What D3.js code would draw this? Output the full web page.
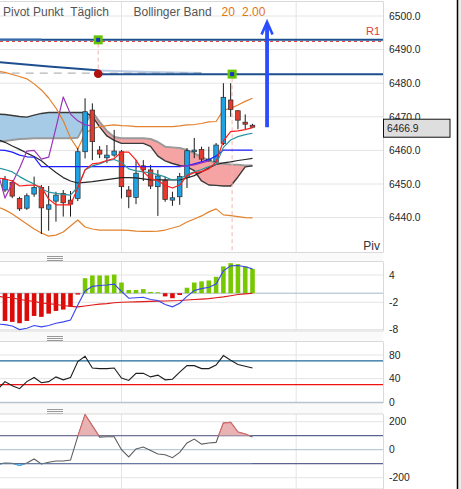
<!DOCTYPE html>
<html><head><meta charset="utf-8">
<script src="https://cdn.jsdelivr.net/npm/d3@7"></script>
<style>
body{margin:0;background:#fff;}
svg{display:block;font-family:"Liberation Sans",Arial,sans-serif;}
</style>
</head><body>
<svg id="chart" width="461" height="489"></svg>
<script>
// ---------------- DATA ----------------
// candle index 0..34 ; indicator series cover index -1..34
const candleIdx = d3.range(0, 35);
const lineIdx = d3.range(-1, 35);

const candleOpen  = [6448.2,6450.5,6445.7,6442.8,6447.0,6449.0,6442.5,6444.9,6447.2,6445.2,6445.7,6459.6,6472.0,6460.1,6457.8,6458.6,6459.6,6448.2,6446.0,6455.4,6454.2,6449.2,6451.0,6445.2,6446.2,6452.0,6459.6,6460.3,6456.9,6456.6,6462.1,6475.0,6471.8,6468.4,6467.5];
const candleHigh  = [6452.4,6451.2,6446.2,6447.2,6452.2,6449.7,6449.4,6447.7,6448.2,6447.9,6460.7,6475.5,6474.0,6461.3,6461.6,6466.1,6460.1,6449.4,6457.1,6457.1,6455.7,6454.2,6452.2,6447.7,6453.3,6460.7,6463.7,6461.1,6461.1,6462.2,6480.0,6480.0,6472.0,6470.7,6467.9];
const candleLow   = [6447.6,6445.8,6442.0,6442.3,6446.2,6435.1,6436.1,6438.8,6440.3,6440.3,6444.9,6457.6,6457.1,6457.7,6456.2,6458.1,6445.7,6442.8,6444.0,6450.9,6448.5,6440.5,6444.7,6443.5,6443.8,6448.8,6457.7,6456.6,6456.6,6456.3,6461.6,6470.0,6466.3,6466.3,6466.8];
const candleClose = [6451.4,6446.4,6442.6,6446.5,6449.0,6442.9,6443.8,6446.7,6444.4,6444.0,6459.6,6471.5,6462.6,6458.9,6458.6,6459.8,6449.2,6446.2,6453.2,6454.2,6449.4,6452.4,6445.4,6445.9,6452.2,6459.9,6460.1,6457.4,6457.4,6461.6,6475.8,6472.2,6469.0,6467.8,6466.9];

const bbUpper = [6483.6,6483.2,6482.6,6482.0,6481.3,6479.8,6478.0,6475.6,6472.6,6468.8,6463.7,6460.4,6465.1,6466.4,6467.1,6467.4,6467.6,6467.4,6467.3,6467.1,6467.05,6467.05,6467.05,6467.05,6467.05,6467.3,6467.6,6467.7,6468.0,6468.5,6468.6,6472.0,6472.5,6473.5,6474.6,6475.5];
const bbLower = [6443.2,6442.3,6441.1,6439.6,6438.1,6436.6,6435.4,6434.5,6434.8,6435.7,6437.5,6439.3,6437.2,6436.6,6436.3,6436.3,6436.3,6436.3,6436.2,6436.0,6435.9,6435.9,6436.0,6436.3,6436.9,6437.5,6438.7,6439.6,6440.5,6441.7,6442.6,6440.8,6440.6,6440.3,6440.0,6439.9];
const spanA = [6470.8,6470.7,6470.4,6470.1,6469.9,6470.5,6471.0,6471.3,6471.3,6471.3,6471.3,6471.3,6471.3,6470.1,6467.0,6464.3,6463.0,6462.1,6462.1,6462.1,6462.1,6461.2,6458.3,6456.9,6456.1,6455.5,6455.1,6454.0,6450.9,6449.7,6449.6,6449.4,6449.4,6452.1,6455.1,6455.4];
const spanB = [6462.7,6462.8,6463.1,6463.4,6463.5,6463.6,6463.6,6463.6,6463.6,6463.6,6463.6,6463.8,6467.9,6471.4,6468.5,6465.8,6464.0,6463.6,6463.6,6463.6,6463.6,6463.4,6462.5,6461.1,6460.9,6460.7,6460.1,6459.2,6458.0,6457.0,6456.3,6456.0,6455.8,6455.7,6455.5,6455.5];
const kijunLine = [6463.2,6462.4,6461.3,6460.3,6459.2,6458.2,6456.9,6455.1,6453.4,6451.9,6450.9,6450.3,6450.5,6450.7,6451.0,6451.3,6451.6,6451.9,6451.9,6451.8,6451.5,6451.2,6451.2,6451.2,6451.2,6451.2,6451.8,6452.5,6453.6,6454.8,6455.8,6456.3,6456.6,6457.0,6457.3,6457.6];
const blueLine = [6460.1,6460.0,6459.5,6458.6,6458.1,6458.0,6455.2,6455.2,6455.2,6455.2,6455.2,6455.2,6455.2,6455.2,6455.2,6455.2,6455.2,6455.2,6455.2,6455.2,6455.2,6455.2,6455.2,6455.2,6455.2,6455.2,6455.4,6456.0,6456.6,6457.3,6458.3,6460.1,6460.1,6460.1,6460.1,6460.1];
const redLine = [6451.8,6451.5,6450.9,6449.4,6449.6,6449.7,6449.1,6445.5,6443.8,6443.8,6443.8,6448.8,6454.2,6456.0,6456.3,6457.0,6457.6,6459.5,6459.5,6457.1,6453.6,6451.6,6451.0,6449.6,6448.8,6449.7,6452.5,6453.4,6453.7,6454.5,6456.6,6462.8,6465.6,6465.8,6466.2,6466.8];
const tealLine = [6454.8,6454.3,6453.6,6452.2,6451.0,6450.0,6448.5,6447.6,6447.2,6446.9,6446.7,6449.1,6454.2,6455.4,6456.0,6456.9,6457.3,6456.4,6454.5,6453.9,6453.6,6453.3,6452.8,6452.1,6451.2,6451.5,6452.8,6453.6,6454.3,6455.2,6455.8,6460.9,6463.1,6464.1,6464.7,6465.1];
const purpleLine = [6453.6,6445.8,6450.3,6454.7,6459.8,6460.0,6457.4,6458.0,6466.7,6475.9,6470.8,6468.8,6467.6,6467.3,
  null,null,null,null,null,null,null,null,null,null,null,
  6455.2,6455.4,6455.7,6456.3,6456.9,null,null,null,null,null,null];

const macdLine = [-6.8,-6.9,-7.2,-8.0,-7.7,-7.1,-7.4,-7.1,-6.6,-6.3,-5.9,-2.6,0.5,1.5,1.7,1.8,2.0,0.4,-1.1,-1.0,-0.9,-1.4,-1.6,-2.5,-3.0,-2.2,-0.7,0.6,1.0,1.3,2.0,4.9,6.0,6.1,5.8,5.35];
const macdSignal = [-0.7,-0.9,-1.0,-1.4,-1.6,-1.8,-2.15,-2.3,-2.5,-2.7,-2.9,-3.0,-2.8,-2.6,-2.4,-2.3,-2.1,-2.0,-1.95,-1.9,-1.85,-1.8,-1.75,-1.7,-1.65,-1.6,-1.5,-1.4,-1.3,-1.2,-1.0,-0.8,-0.55,-0.3,-0.15,0];
const macdHist = [-6.1,-6.3,-6.6,-6.1,-5.0,-5.2,-4.5,-3.9,-3.6,-2.9,-0.3,3.3,3.9,3.9,3.9,4.1,2.35,0.7,0.7,0.9,0.28,0.2,-0.7,-1.1,-0.4,1.2,2.35,2.6,2.8,3.6,5.9,6.6,6.4,5.9,5.35];
const oscLine = [22,35,28,23,35,42,33,35,43,38,42,69,78,58,57,57,58,41,37,49,49,43,46,38,39,51,62,62,57,57,63,79,71,64,61,58];
const cciLine = [-104,-95,-97,-112,-95,-66,-102,-90,-81,-81,-74,95,250,170,90,92,92,0,-52,5,19,-5,-31,-36,-57,-19,48,76,40,48,52,190,195,126,112,90];

const mainTicks = [6440,6450,6460,6470,6480,6490,6500];
const macdTicks = [4,-2,-8];
const oscTicks = [0,40,80];
const oscLevels = [70,30];
const cciTicks = [-200,0,200];
const cciLevels = [100,-100];
const gridIdx = [16,40];

const resistLevel = 6492.9, pivotR1 = 6492.4, trendLevel = 6482.7, dashedLevel = 6483.0;
const trendCurveIdx = [-1,6,12.8,20,27];
const trendCurvePx = [6486.3,6485.0,6483.8,6483.3,6483.0];
const faintLineIdx = [-1,5], faintLinePx = 6493.2;
const markerIdx = [12.8,31.2], markerPx = [6492.9,6482.7];
const circleIdx = 12.8, circlePx = 6482.8;
const eventIdx = [12.8,31.2], eventFrom = [6491.8,6481.5], eventTo = [6484.1,null];
const arrowIdx = 36, arrowFrom = 6466.9, arrowTo = 6498.2;
const lastPrice = 6466.9;

// ---------------- LAYOUT ----------------
const svg = d3.select("#chart");
const plotR = 383;
const P = {
  main:{top:1.5,bottom:252.5},
  macd:{top:261.5,bottom:331},
  osc:{top:341.5,bottom:403},
  cci:{top:414,bottom:489}
};
const x = d3.scaleLinear().domain([0,34]).range([5,252.5]);
const yMain = d3.scaleLinear().domain([6440,6500]).range([217.6,16]);
const yMacd = d3.scaleLinear().domain([-8,4]).range([329.6,275]);
const yOsc = d3.scaleLinear().domain([0,80]).range([402.3,355]);
const yCci = d3.scaleLinear().domain([-200,200]).range([477.7,421.7]);

svg.append("rect").attr("width",461).attr("height",489).attr("fill","#fff");
svg.append("rect").attr("x",458).attr("width",3).attr("height",489).attr("fill","#ececec");

const defs = svg.append("defs");
Object.entries(P).forEach(([k,p])=>{
  defs.append("clipPath").attr("id","clip-"+k).append("rect")
    .attr("x",0).attr("y",p.top).attr("width",plotR).attr("height",p.bottom-p.top);
});

// separator bands + grips
[[P.main.bottom,P.macd.top],[P.macd.bottom,P.osc.top],[P.osc.bottom,P.cci.top]].forEach(([a,b])=>{
  svg.append("rect").attr("x",0).attr("y",a).attr("width",plotR).attr("height",b-a).attr("fill","#fafafa");
  [5,3,1].forEach(o=>{
    const yy = Math.floor(b)-o+0.5;
    svg.append("line").attr("x1",47).attr("x2",63).attr("y1",yy).attr("y2",yy)
      .attr("stroke","#999").attr("stroke-width",1);
  });
});

// grids
function hGrid(scale, ticks, color){
  svg.append("g").selectAll("line").data(ticks).join("line")
    .attr("x1",0).attr("x2",plotR).attr("y1",d=>scale(d)).attr("y2",d=>scale(d))
    .attr("stroke",color||"#e4e4e4").attr("stroke-width",1);
}
function vGrid(p){
  svg.append("g").selectAll("line").data(gridIdx).join("line")
    .attr("x1",d=>x(d)).attr("x2",d=>x(d)).attr("y1",p.top).attr("y2",p.bottom)
    .attr("stroke","#e4e4e4").attr("stroke-width",1);
}
Object.values(P).forEach(p=>{
  vGrid(p);
  svg.append("line").attr("x1",0).attr("x2",plotR).attr("y1",p.top).attr("y2",p.top).attr("stroke","#d9d9d9");
  svg.append("line").attr("x1",0).attr("x2",plotR).attr("y1",p.bottom).attr("y2",p.bottom).attr("stroke","#d9d9d9");
  svg.append("line").attr("x1",plotR+0.5).attr("x2",plotR+0.5).attr("y1",p.top).attr("y2",p.bottom).attr("stroke","#d9d9d9");
});
hGrid(yMain, mainTicks);
hGrid(yMacd, macdTicks);
hGrid(yMacd, [0], "#a9b9ca");
hGrid(yOsc, [40,80]);
hGrid(yOsc, [0], "#a9b9ca");
hGrid(yCci, [200,-200]);
hGrid(yCci, [0], "#a9bfd0");

// ---------------- MAIN PANEL ----------------
const gMain = svg.append("g").attr("clip-path","url(#clip-main)");

// ichimoku cloud segments
(function(){
  const pts = lineIdx.map((i,k)=>({i, a:spanA[k], b:spanB[k]}));
  const segs=[]; let cur=null;
  pts.forEach((p,k)=>{
    const s = p.a >= p.b;
    if(!cur){cur={s,pts:[p]};return;}
    if(s!==cur.s){
      const q=pts[k-1], d0=q.a-q.b, d1=p.a-p.b, t=d0/(d0-d1);
      const c={i:q.i+t*(p.i-q.i), a:q.a+t*(p.a-q.a)}; c.b=c.a;
      cur.pts.push(c); segs.push(cur); cur={s,pts:[c,p]};
    } else cur.pts.push(p);
  });
  segs.push(cur);
  const area = d3.area().x(d=>x(d.i)).y0(d=>yMain(d.b)).y1(d=>yMain(d.a));
  gMain.selectAll("path.cloud").data(segs).join("path").attr("class","cloud")
    .attr("d",d=>area(d.pts)).attr("fill",d=>d.s?"#a6cbe6":"#f6a3a3");
})();

const line = (arr, idx) => d3.line().defined(d=>d.v!=null).x(d=>x(d.i)).y(d=>yMain(d.v))
  (idx.map((i,k)=>({i, v:arr[k]})));
function drawLine(g, arr, color, w, opacity){
  g.append("path").attr("d",line(arr,lineIdx)).attr("fill","none").attr("stroke",color)
    .attr("stroke-width",w).attr("stroke-linejoin","round").attr("opacity",opacity==null?1:opacity);
}
drawLine(gMain, spanB, "#9a9a9a", 2);
drawLine(gMain, spanA, "#3a3a3a", 1.4);

// trend / pivot lines
gMain.append("line").attr("x1",0).attr("x2",plotR).attr("y1",yMain(pivotR1)).attr("y2",yMain(pivotR1))
  .attr("stroke","#e0403c").attr("stroke-width",1).attr("stroke-dasharray","3,3");
gMain.append("line").attr("x1",0).attr("x2",plotR).attr("y1",yMain(resistLevel)).attr("y2",yMain(resistLevel))
  .attr("stroke","#1d4f8f").attr("stroke-width",2);
gMain.append("line").attr("x1",x(faintLineIdx[0])).attr("x2",x(faintLineIdx[1]))
  .attr("y1",yMain(faintLinePx)).attr("y2",yMain(faintLinePx))
  .attr("stroke","#6f9ad6").attr("stroke-width",1.5).attr("opacity",0.7);
gMain.append("line").attr("x1",x(trendCurveIdx[0])).attr("x2",x(trendCurveIdx[trendCurveIdx.length-1]))
  .attr("y1",yMain(dashedLevel)).attr("y2",yMain(dashedLevel))
  .attr("stroke","#b5b5b5").attr("stroke-width",1.2).attr("stroke-dasharray","8,6");
(function(){
  const pts = trendCurveIdx.map((i,k)=>({i,v:trendCurvePx[k]}));
  const gen = d3.line().curve(d3.curveMonotoneX).x(d=>x(d.i)).y(d=>yMain(d.v));
  gMain.append("path").attr("d",gen(pts.slice(0,3))).attr("fill","none").attr("stroke","#1d4f8f").attr("stroke-width",2);
  gMain.append("path").attr("d",gen(pts.slice(2))).attr("fill","none").attr("stroke","#3b6fb5").attr("stroke-width",2).attr("opacity",0.35);
})();
gMain.append("line").attr("x1",x(markerIdx[0])).attr("x2",plotR).attr("y1",yMain(trendLevel)).attr("y2",yMain(trendLevel))
  .attr("stroke","#1d4f8f").attr("stroke-width",2);

// event dashed verticals
eventIdx.forEach((ei,k)=>{
  gMain.append("line").attr("x1",x(ei)).attr("x2",x(ei))
    .attr("y1",yMain(eventFrom[k])).attr("y2",eventTo[k]==null?P.main.bottom:yMain(eventTo[k]))
    .attr("stroke","#f4b4b4").attr("stroke-width",1).attr("stroke-dasharray","4,3");
});

// bollinger bands
drawLine(gMain, bbUpper, "#e2822e", 1.2);
drawLine(gMain, bbLower, "#e2822e", 1.2);

// candles
const candles = candleIdx.map((i,k)=>({i,o:candleOpen[k],h:candleHigh[k],l:candleLow[k],c:candleClose[k]}));
gMain.selectAll("line.wick").data(candles).join("line").attr("class","wick")
  .attr("x1",d=>x(d.i)).attr("x2",d=>x(d.i)).attr("y1",d=>yMain(d.h)).attr("y2",d=>yMain(d.l))
  .attr("stroke","#1a1a1a").attr("stroke-width",1);
gMain.selectAll("rect.body").data(candles).join("rect").attr("class","body")
  .attr("x",d=>x(d.i)-2.3).attr("width",4.6)
  .attr("y",d=>yMain(Math.max(d.o,d.c)))
  .attr("height",d=>Math.max(1.2, yMain(Math.min(d.o,d.c))-yMain(Math.max(d.o,d.c))))
  .attr("fill",d=>d.c>=d.o?"#1fa2e4":"#e43b2f").attr("stroke","#2b2b2b").attr("stroke-width",0.7);

// indicator lines
drawLine(gMain, kijunLine, "#262626", 1.2);
drawLine(gMain, blueLine, "#1d1dff", 1.2);
drawLine(gMain, purpleLine, "#9b34b8", 1.2);
drawLine(gMain, tealLine, "#2a94a0", 1.2);
drawLine(gMain, redLine, "#ff1c1c", 1.2);

// markers
gMain.append("circle").attr("cx",x(circleIdx)).attr("cy",yMain(circlePx)).attr("r",4.3).attr("fill","#b01212");
markerIdx.forEach((mi,k)=>{
  gMain.append("rect").attr("x",x(mi)-4.5).attr("y",yMain(markerPx[k])-4.5).attr("width",9).attr("height",9).attr("fill","#66c400");
  gMain.append("rect").attr("x",x(mi)-2).attr("y",yMain(markerPx[k])-2).attr("width",4).attr("height",4).attr("fill","#1636c8");
});

// arrow
gMain.append("line").attr("x1",x(arrowIdx)).attr("x2",x(arrowIdx)).attr("y1",yMain(arrowFrom)).attr("y2",yMain(arrowTo)+1)
  .attr("stroke","#2a4cff").attr("stroke-width",3.8);
gMain.append("path")
  .attr("d",`M${x(arrowIdx)-5.5},${yMain(arrowTo)+12.5}L${x(arrowIdx)},${yMain(arrowTo)}L${x(arrowIdx)+5.5},${yMain(arrowTo)+12.5}`)
  .attr("fill","none").attr("stroke","#2a4cff").attr("stroke-width",2.6);

// labels in main panel
svg.append("text").attr("x",3).attr("y",16).style("white-space","pre").attr("font-size",12).attr("fill","#555")
  .text("Pivot Punkt  Täglich");
svg.append("text").attr("x",133.5).attr("y",16).attr("font-size",12).attr("fill","#555").text("Bollinger Band");
svg.append("text").attr("x",221.5).attr("y",16).attr("font-size",12).attr("fill","#e07514").text("20");
svg.append("text").attr("x",242).attr("y",16).attr("font-size",12).attr("fill","#e07514").text("2.00");
svg.append("text").attr("x",380).attr("y",yMain(pivotR1)-7).attr("text-anchor","end").attr("font-size",11).attr("fill","#e0403c").text("R1");
svg.append("text").attr("x",380).attr("y",P.main.bottom-3).attr("text-anchor","end").attr("font-size",12).attr("fill","#333").text("Piv");

// ---------------- MACD ----------------
const gMacd = svg.append("g").attr("clip-path","url(#clip-macd)");
gMacd.selectAll("rect").data(candleIdx.map((i,k)=>({i,v:macdHist[k]}))).join("rect")
  .attr("x",d=>x(d.i)-2.3).attr("width",4.6)
  .attr("y",d=>yMacd(Math.max(0,d.v))).attr("height",d=>Math.abs(yMacd(d.v)-yMacd(0)))
  .attr("fill",d=>d.v>=0?"#78c800":"#dd0a0a");
const lineG = (scale)=>d3.line().x(d=>x(d.i)).y(d=>scale(d.v));
gMacd.append("path").attr("d",lineG(yMacd)(lineIdx.map((i,k)=>({i,v:macdSignal[k]}))))
  .attr("fill","none").attr("stroke","#e01818").attr("stroke-width",1.1);
gMacd.append("path").attr("d",lineG(yMacd)(lineIdx.map((i,k)=>({i,v:macdLine[k]}))))
  .attr("fill","none").attr("stroke","#3b45ee").attr("stroke-width",1.1);

// ---------------- OSCILLATOR ----------------
const gOsc = svg.append("g").attr("clip-path","url(#clip-osc)");
gOsc.selectAll("line").data(oscLevels).join("line")
  .attr("x1",0).attr("x2",plotR).attr("y1",d=>yOsc(d)).attr("y2",d=>yOsc(d))
  .attr("stroke",(d,i)=>i===0?"#1f6a98":"#ee1111").attr("stroke-width",1.2);
gOsc.append("path").attr("d",lineG(yOsc)(lineIdx.map((i,k)=>({i,v:oscLine[k]}))))
  .attr("fill","none").attr("stroke","#1e1e1e").attr("stroke-width",1.1);

// ---------------- CCI ----------------
const gCci = svg.append("g").attr("clip-path","url(#clip-cci)");
gCci.selectAll("line").data(cciLevels).join("line")
  .attr("x1",0).attr("x2",plotR).attr("y1",d=>yCci(d)).attr("y2",d=>yCci(d))
  .attr("stroke","#5a648e").attr("stroke-width",1.2);
defs.append("clipPath").attr("id","cci-up").append("rect").attr("x",0).attr("y",P.cci.top)
  .attr("width",plotR).attr("height",yCci(cciLevels[0])-P.cci.top);
defs.append("clipPath").attr("id","cci-dn").append("rect").attr("x",0).attr("y",yCci(cciLevels[1]))
  .attr("width",plotR).attr("height",P.cci.bottom-yCci(cciLevels[1]));
const cciPts = lineIdx.map((i,k)=>({i,v:cciLine[k]}));
gCci.append("path").attr("d",lineG(yCci)(cciPts)).attr("fill","none").attr("stroke","#5e5e5e").attr("stroke-width",1.1);
const up = gCci.append("g").attr("clip-path","url(#cci-up)");
up.append("path").attr("d",d3.area().x(d=>x(d.i)).y0(yCci(cciLevels[0])).y1(d=>yCci(d.v))(cciPts)).attr("fill","#e9b3b3");
up.append("path").attr("d",lineG(yCci)(cciPts)).attr("fill","none").attr("stroke","#d96a6a").attr("stroke-width",1.1);
const dn = gCci.append("g").attr("clip-path","url(#cci-dn)");
dn.append("path").attr("d",d3.area().x(d=>x(d.i)).y0(yCci(cciLevels[1])).y1(d=>yCci(d.v))(cciPts)).attr("fill","#a9d6f2");
dn.append("path").attr("d",lineG(yCci)(cciPts)).attr("fill","none").attr("stroke","#46a6e0").attr("stroke-width",1.1);

// ---------------- AXES ----------------
function yAxis(scale, ticks, fmt){
  const g = svg.append("g").attr("transform",`translate(${plotR},0)`)
    .call(d3.axisRight(scale).tickValues(ticks).tickFormat(fmt).tickSize(0).tickPadding(6));
  g.select(".domain").remove();
  g.attr("font-family",'"Liberation Sans",Arial,sans-serif').attr("font-size",10.3);
  g.selectAll("text").attr("fill","#1e1e1e");
  return g;
}
yAxis(yMain, mainTicks, d3.format(".1f"));
yAxis(yMacd, macdTicks, d=>String(d));
yAxis(yOsc, oscTicks, d=>String(d));
yAxis(yCci, cciTicks, d=>String(d));

// last price tag
svg.append("rect").attr("x",plotR+0.5).attr("y",yMain(lastPrice)-8).attr("width",66.5).attr("height",18)
  .attr("fill","#dedede").attr("stroke","#111").attr("stroke-width",1);
svg.append("text").attr("x",plotR+4).attr("y",yMain(lastPrice)+4.8).attr("font-size",10.3).attr("fill","#1e1e1e")
  .text(d3.format(".1f")(lastPrice));

// right border
svg.append("line").attr("x1",457.5).attr("x2",457.5).attr("y1",0).attr("y2",489).attr("stroke","#000").attr("stroke-width",1.5);
</script>
</body></html>
